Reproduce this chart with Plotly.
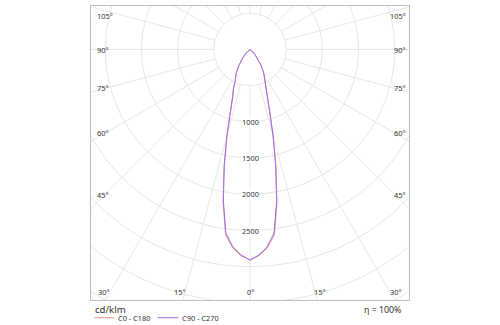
import numpy as np
import plotly.graph_objects as go

# Luminous intensity distribution (cd/klm) versus gamma angle (deg, 0 = straight down)
gamma_deg = [0, 2.5, 5, 7.5, 10, 12.5, 15, 17.5, 20, 22.5, 25, 30, 35, 40, 45, 50, 55,
             60, 65, 70, 75, 80, 85, 90, 105, 120, 135, 150, 165, 180]
c0_c180 = [2907, 2850, 2750, 2580, 2140, 1650, 1235, 910, 705, 600, 488, 380, 265, 160, 92, 38, 9,
           0, 0, 0, 0, 0, 0, 0, 0, 0, 0, 0, 0, 0]
c90_c270 = [2907, 2841, 2734, 2555, 2121, 1640, 1230, 906, 702, 603, 490, 384, 269, 162, 95, 40, 10,
            0, 0, 0, 0, 0, 0, 0, 0, 0, 0, 0, 0, 0]

series_names = ["C0 - C180", "C90 - C270"]
series_colors = ["#f08c8c", "#9a6ff0"]

ring_values = [500, 1000, 1500, 2000, 2500, 3000, 3500, 4000, 4500]
ring_labels = [1000, 1500, 2000, 2500]
spoke_angles = list(range(0, 360, 15))
side_angle_labels = [45, 60, 75, 90, 105]
bottom_angle_labels = [0, 15, 30]
unit_text = "cd/klm"
efficiency_text = "η = 100%"

# ---- page geometry ----
W, H = 500, 325
ML, MR, MT, MB = 91, 91, 6, 25
PX_PER_UNIT = 0.0724            # pixels per cd/klm
CX_PX, CY_PX = 250.0, 49.5      # diagram centre in page pixels
plot_w = W - ML - MR
plot_h = H - MT - MB
x_lo = -(CX_PX - ML) / PX_PER_UNIT
x_hi = (ML + plot_w - CX_PX) / PX_PER_UNIT
y_hi = (CY_PX - MT) / PX_PER_UNIT
y_lo = -(MT + plot_h - CY_PX) / PX_PER_UNIT

GRID = "#e6e6e6"
TEXT = "#333333"
FONT = "Noto Sans"


def polar_xy(r, theta_deg):
    t = np.radians(np.asarray(theta_deg, dtype=float))
    r = np.asarray(r, dtype=float)
    return r * np.sin(t), -r * np.cos(t)


def px_to_paper(px, py):
    return (px - ML) / plot_w, (MT + plot_h - py) / plot_h


fig = go.Figure()

# concentric intensity rings
th = np.linspace(0, 360, 361)
for rv in ring_values:
    x, y = polar_xy(np.full_like(th, rv), th)
    fig.add_trace(go.Scatter(x=x, y=y, mode="lines", line=dict(color=GRID, width=1),
                             hoverinfo="skip", showlegend=False))

# angle spokes, starting at the innermost ring
for a in spoke_angles:
    x, y = polar_xy([ring_values[0], 6000], [a, a])
    fig.add_trace(go.Scatter(x=x, y=y, mode="lines", line=dict(color=GRID, width=1),
                             hoverinfo="skip", showlegend=False))

# intensity curves: left half mirrors the right half
g = np.asarray(gamma_deg, dtype=float)
for name, vals, col in zip(series_names, [c0_c180, c90_c270], series_colors):
    v = np.asarray(vals, dtype=float)
    xr, yr = polar_xy(v, g)
    x = np.concatenate([-xr[::-1], xr[1:]])
    y = np.concatenate([yr[::-1], yr[1:]])
    fig.add_trace(go.Scatter(x=x, y=y, mode="lines", name=name,
                             line=dict(color=col, width=1), showlegend=False))

annotations = []

# ring value labels on the 0° axis
for rv in ring_labels:
    annotations.append(dict(x=0, y=-rv, xref="x", yref="y", text=str(rv), showarrow=False,
                            font=dict(family=FONT, size=7.4, color=TEXT), bgcolor="white",
                            borderpad=0, xanchor="center", yanchor="middle"))

# angle labels along the left and right edges
inset = 145 / PX_PER_UNIT
top_limit = (CY_PX - 15.7) / PX_PER_UNIT
for a in side_angle_labels:
    yv = min(-inset / np.tan(np.radians(a)), top_limit) if a != 90 else 0.0
    yp = CY_PX - yv * PX_PER_UNIT
    for sx, anchor, xpx in [(-1, "left", 94.5), (1, "right", 407.5)]:
        xp, ypp = px_to_paper(xpx, yp)
        annotations.append(dict(x=xp, y=ypp, xref="paper", yref="paper", text=f"{a}°",
                                showarrow=False, xanchor=anchor, yanchor="middle",
                                font=dict(family=FONT, size=7.4, color=TEXT)))

# angle labels along the bottom edge
label_y_px = 292.0
for a in bottom_angle_labels:
    dx = (label_y_px - CY_PX) * np.tan(np.radians(a))
    off = dx + 5.5 if a else 0.0
    for sx in ([-1, 1] if a else [1]):
        xp, yp = px_to_paper(CX_PX + sx * off, label_y_px)
        annotations.append(dict(x=xp, y=yp, xref="paper", yref="paper", text=f"{a}°",
                                showarrow=False, xanchor="center", yanchor="middle",
                                font=dict(family=FONT, size=7.4, color=TEXT)))

# footer: unit, key and efficiency
xp, yp = px_to_paper(92.5, 309.5)
annotations.append(dict(x=xp, y=yp, xref="paper", yref="paper", text=unit_text, showarrow=False,
                        xanchor="left", yanchor="middle", font=dict(family=FONT, size=9.6, color=TEXT)))
xp, yp = px_to_paper(403, 309.5)
annotations.append(dict(x=xp, y=yp, xref="paper", yref="paper", text=efficiency_text, showarrow=False,
                        xanchor="right", yanchor="middle", font=dict(family=FONT, size=8.8, color=TEXT)))

shapes = []
key_items = [(94.3, 114.3, 116.3), (157.7, 178.3, 180.0)]
for (x0, x1, xt), name, col in zip(key_items, series_names, series_colors):
    p0 = px_to_paper(x0, 317.7)
    p1 = px_to_paper(x1, 317.7)
    shapes.append(dict(type="line", xref="paper", yref="paper", x0=p0[0], y0=p0[1], x1=p1[0], y1=p1[1],
                       line=dict(color=col, width=1)))
    pt = px_to_paper(xt, 317.7)
    annotations.append(dict(x=pt[0], y=pt[1], xref="paper", yref="paper", text=name, showarrow=False,
                            xanchor="left", yanchor="middle", font=dict(family=FONT, size=7.4, color=TEXT)))

axis_common = dict(showgrid=False, zeroline=False, showticklabels=False, ticks="",
                   showline=True, mirror=True, linecolor="#bdbdbd", linewidth=1, fixedrange=True)

fig.update_layout(
    width=W, height=H,
    margin=dict(l=ML, r=MR, t=MT, b=MB, pad=0),
    paper_bgcolor="white", plot_bgcolor="white",
    xaxis=dict(range=[x_lo, x_hi], **axis_common),
    yaxis=dict(range=[y_lo, y_hi], **axis_common),
    annotations=annotations, shapes=shapes,
    showlegend=False,
)

fig.write_html("out.html")
